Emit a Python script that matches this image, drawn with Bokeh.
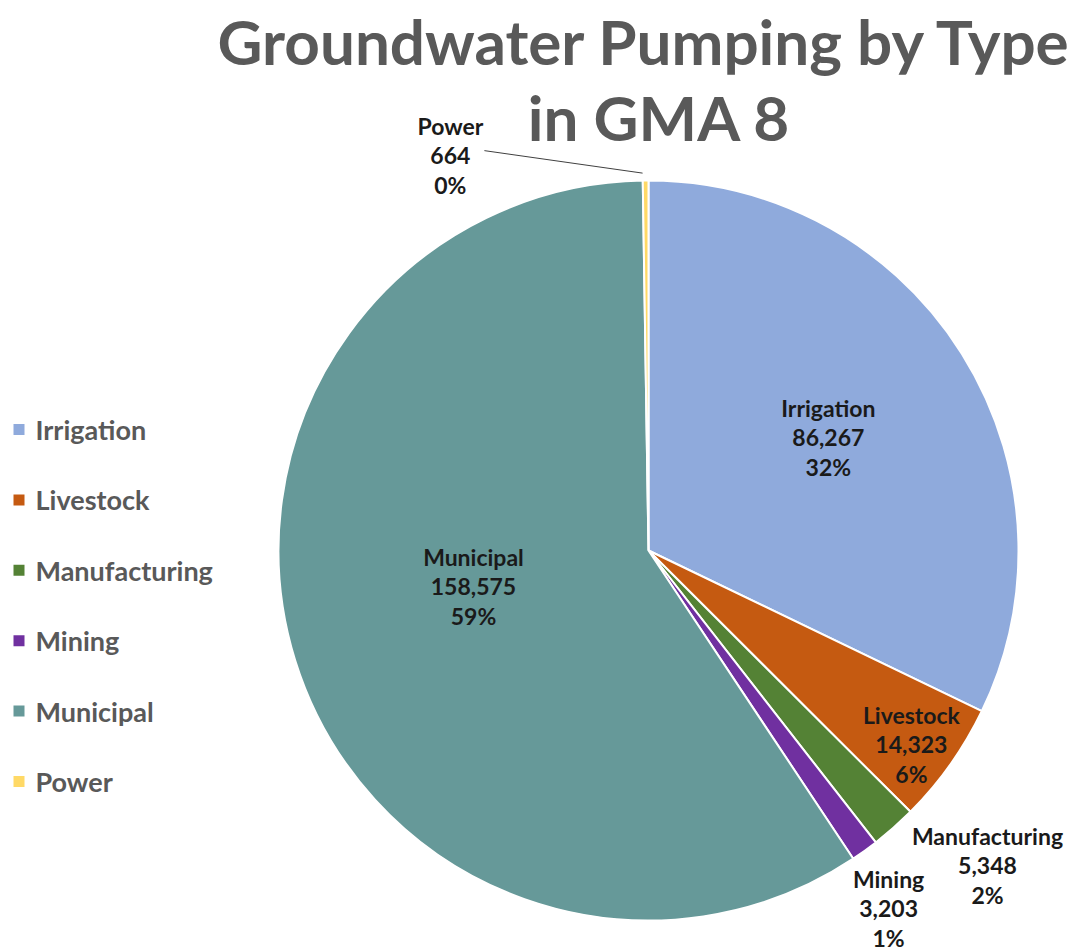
import math
from bokeh.plotting import figure
from bokeh.models import Range1d
from bokeh.core.properties import value
from bokeh.embed import file_html
from bokeh.resources import INLINE

# ---- data ----
categories = ["Irrigation", "Livestock", "Manufacturing", "Mining", "Municipal", "Power"]
pumping = [86267, 14323, 5348, 3203, 158575, 664]
pct_labels = [32, 6, 2, 1, 59, 0]
colors = ["#8FAADC", "#C55A11", "#548235", "#7030A0", "#669999", "#FFD966"]
title_lines = ["Groundwater Pumping by Type", "in GMA 8"]

# ---- layout ----
W, H = 1080, 952
CX, CY, R = 648, 402, 370
label_r = [0.574, 0.883, 1.251, 1.165, 0.483, 1.194]
label_shift = [0.0, 1.1, -5.6, 1.9, 5.6, -26.2]   # degrees (clockwise) from slice mid-angle
LINE_GAP = 29.5
FONT = "Lato"

p = figure(width=W, height=H, x_range=Range1d(0, W), y_range=Range1d(0, H),
           output_backend="svg", toolbar_location=None, min_border=0)
p.axis.visible = False
p.grid.visible = False
p.outline_line_color = None
p.background_fill_color = "white"
p.border_fill_color = "white"

total = sum(pumping)
starts, ends, mids = [], [], []
cum = 0
for v in pumping:
    a0 = math.pi / 2 - 2 * math.pi * cum / total
    cum += v
    a1 = math.pi / 2 - 2 * math.pi * cum / total
    starts.append(a0)
    ends.append(a1)
    mids.append((a0 + a1) / 2)

p.wedge(x=[CX] * len(pumping), y=[CY] * len(pumping), radius=R,
        start_angle=starts, end_angle=ends, direction="clock",
        fill_color=colors, line_color="white", line_width=2)

# data labels
label_pos = []
for i, cat in enumerate(categories):
    ang = mids[i] - math.radians(label_shift[i])
    lx = CX + label_r[i] * R * math.cos(ang)
    ly = CY + label_r[i] * R * math.sin(ang)
    label_pos.append((lx, ly))
    lines = [cat, f"{pumping[i]:,}", f"{pct_labels[i]}%"]
    for k, t in enumerate(lines):
        p.text(x=[lx], y=[ly - (k - 1) * LINE_GAP], text=[t],
               text_font=value(FONT), text_font_style="bold", text_font_size="23px",
               text_color="#1a1a1a", text_align="center", text_baseline="middle")

# leader line for Power
ip = categories.index("Power")
lx, ly = label_pos[ip]
p.line(x=[lx + 34, CX + 1.02 * R * math.cos(mids[ip]) - 3],
       y=[ly + 5, CY + 1.02 * R * math.sin(mids[ip])],
       line_color="#404040", line_width=1)

# title
p.text(x=[645, 659], y=[H - 40, H - 116], text=title_lines,
       text_font=value(FONT), text_font_style="bold", text_font_size="62px",
       text_color="#595959", text_align="center", text_baseline="middle")

# legend
LEG_X, LEG_TOP, LEG_STEP = 13, H - 429, 70.4
leg_y = [LEG_TOP - i * LEG_STEP for i in range(len(categories))]
p.rect(x=[LEG_X + 5.5] * len(categories), y=leg_y, width=11, height=11,
       fill_color=colors, line_color=None)
p.text(x=[LEG_X + 22] * len(categories), y=leg_y, text=categories,
       text_font=value(FONT), text_font_style="bold", text_font_size="27px",
       text_color="#595959", text_align="left", text_baseline="middle")

open("out.html", "w").write(file_html(p, INLINE))
